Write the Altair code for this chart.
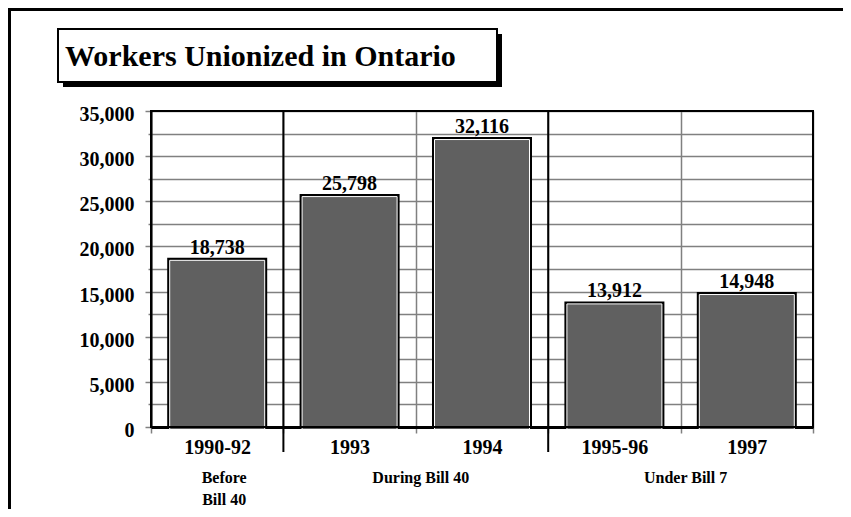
import altair as alt
import pandas as pd

title_text = "Workers Unionized in Ontario"
periods = ["1990-92", "1993", "1994", "1995-96", "1997"]
workers = [18738, 25798, 32116, 13912, 14948]
group_labels = ["Before\nBill 40", "During Bill 40", "Under Bill 7"]
group_start = ["1990-92", "1993", "1995-96"]
group_span = [1, 2, 2]
y_ticks = [0, 2500, 5000, 7500, 10000, 12500, 15000, 17500, 20000,
           22500, 25000, 27500, 30000, 32500, 35000]

FONT = "Liberation Serif"
GRAY = "#808080"
BAR = "#606060"

W, H = 662, 316
PAD = {"left": 143, "top": 103, "right": 30, "bottom": 82}

bars_df = pd.DataFrame({"period": periods, "workers": workers})
groups_df = pd.DataFrame({"label": group_labels, "period": group_start, "span": group_span})
title_df = pd.DataFrame({"title": [title_text]})

xscale = alt.Scale(domain=periods, paddingInner=0, paddingOuter=0)
yscale = alt.Scale(domain=[0, 35000], nice=False, zero=True)

x_axis = alt.Axis(
    title=None, labelFont=FONT, labelFontSize=20, labelFontWeight="bold",
    labelColor="black", labelPadding=4, labelAngle=0, tickBand="extent",
    grid=True, gridColor=GRAY, gridWidth=1.5, tickColor=GRAY, tickWidth=1.5,
    tickSize=6, domainColor="black", domainWidth=3,
)
y_axis = alt.Axis(
    title=None, values=y_ticks,
    labelExpr="datum.value % 5000 === 0 ? format(datum.value, ',') : ''",
    labelFont=FONT, labelFontSize=20, labelFontWeight="bold", labelColor="black",
    labelPadding=11, labelBaseline="alphabetic", labelOffset=9.5,
    grid=True, gridColor=GRAY, gridWidth=1.5, tickColor=GRAY, tickWidth=1.5,
    tickSize={"condition": {"test": "datum.value % 5000 === 0", "value": 6}, "value": 3},
    domainColor="black", domainWidth=2,
)


def X(**kw):
    return alt.X("period:N", scale=xscale, axis=x_axis, **kw)


Y = alt.Y("workers:Q", scale=yscale, axis=y_axis)

# decorative outer frame (top + left)
frame_top = alt.Chart(title_df).mark_rule(color="black", strokeWidth=3).encode(
    x=alt.value(-143), x2=alt.value(W + 30), y=alt.value(-101.5))
frame_left = alt.Chart(title_df).mark_rule(color="black", strokeWidth=3).encode(
    x=alt.value(-141.5), y=alt.value(-103), y2=alt.value(H + 82))

# title box with shadow
shadow = alt.Chart(title_df).mark_rect(fill="black").encode(
    x=alt.value(-88), x2=alt.value(351), y=alt.value(-77), y2=alt.value(-24))
box = alt.Chart(title_df).mark_rect(fill="white", stroke="black", strokeWidth=2).encode(
    x=alt.value(-93), x2=alt.value(346), y=alt.value(-82), y2=alt.value(-29))
title = alt.Chart(title_df).mark_text(
    font=FONT, fontSize=30, fontWeight="bold", align="left", baseline="alphabetic",
    color="black").encode(x=alt.value(-86), y=alt.value(-45), text="title:N")

# bars: black outline, white inner line, gray fill
bar_outer = alt.Chart(bars_df).mark_bar(size=100, color="black").encode(x=X(), y=Y)
bar_inner = alt.Chart(bars_df).mark_bar(
    size=95, color=BAR, stroke="white", strokeWidth=1, yOffset=2.5).encode(x=X(), y=Y)

values = alt.Chart(bars_df).mark_text(
    font=FONT, fontSize=20, fontWeight="bold", baseline="alphabetic", dy=-4,
    color="black").encode(x=X(), y=Y, text=alt.Text("workers:Q", format=","))

# plot frame on top of grid
plot_frame = alt.Chart(title_df).mark_rect(
    fillOpacity=0, stroke="black", strokeWidth=2).encode(
    x=alt.value(0), x2=alt.value(W), y=alt.value(0), y2=alt.value(H))

# group separators
sep = alt.Chart(groups_df).transform_filter("datum.period !== '1990-92'").mark_rule(
    color="black", strokeWidth=2).encode(
    x=X(bandPosition=0), y=alt.value(0), y2=alt.value(H + 25))

# group labels
glab1 = alt.Chart(groups_df).transform_filter("datum.span === 1").mark_text(
    font=FONT, fontSize=16, fontWeight="bold", baseline="top", align="center",
    lineBreak="\n", lineHeight=22, dx=7, color="black").encode(
    x=X(bandPosition=0.5), y=alt.value(H + 43), text="label:N")
glab2 = alt.Chart(groups_df).transform_filter("datum.span === 2").mark_text(
    font=FONT, fontSize=16, fontWeight="bold", baseline="top", align="center",
    lineBreak="\n", lineHeight=22, dx=5, color="black").encode(
    x=X(bandPosition=1), y=alt.value(H + 43), text="label:N")

chart = alt.layer(
    frame_top, frame_left, shadow, box, title,
    bar_outer, bar_inner, values, plot_frame, sep, glab1, glab2,
).properties(
    width=W, height=H, autosize="none", padding=PAD, background="white",
).configure_view(stroke="transparent", strokeWidth=0)

chart.save("out.html", embed_options={"renderer": "svg", "actions": False})
